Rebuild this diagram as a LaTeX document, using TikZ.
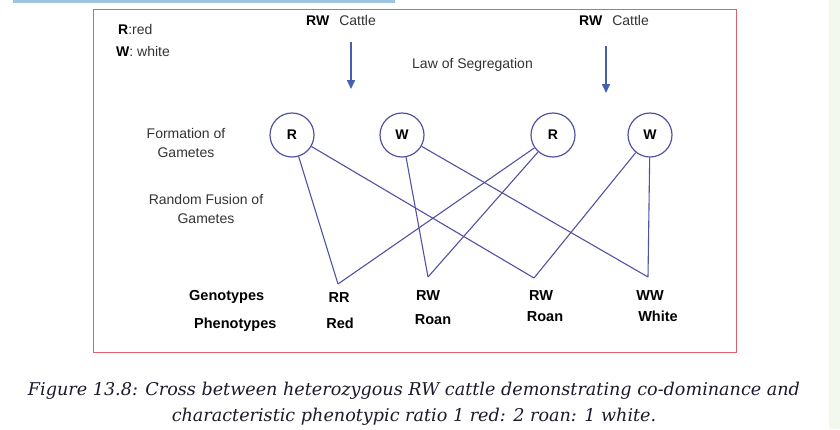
\documentclass[tikz,border=0pt]{standalone}
\usepackage{fontspec}
\setmainfont{Liberation Sans}
\newfontfamily\capfont{DejaVu Serif}
\usetikzlibrary{positioning, arrows.meta}

\definecolor{linecol}{HTML}{5252A2}
\definecolor{arrowcol}{HTML}{4560B0}
\definecolor{framecol}{HTML}{E0606E}
\definecolor{toplinecol}{HTML}{9EC4DE}
\definecolor{panelcol}{HTML}{F3F8EF}
\definecolor{greytext}{HTML}{333333}
\definecolor{captext}{HTML}{1A1A2C}

\begin{document}
\begin{tikzpicture}[x=1pt, y=-1pt]
        % Define styles for shapes
        \tikzset{
            gamete/.style={draw=linecol, circle, line width=1.2pt, minimum size=44pt, inner sep=0pt, font=\fontsize{14}{16}\selectfont\bfseries},
            cross/.style={linecol, line width=1.1pt},
            lbl/.style={font=\fontsize{14}{19}\selectfont, text=greytext, inner sep=0pt},
            blbl/.style={font=\fontsize{14.5}{16}\selectfont\bfseries, text=black, inner sep=0pt},
            down/.style={arrowcol, line width=1.6pt, -{Triangle[length=9pt, width=8pt]}}
        }
        \useasboundingbox (0,0) rectangle (840,429);
        % Page decorations
        \fill[toplinecol] (13,0) rectangle (395,2.5);
        \fill[panelcol] (829,0) rectangle (840,429);
        \draw[framecol, line width=1pt] (93,9) rectangle (736,352);

        % Key and headings
        \node[lbl, anchor=west] (keyr) at (118,29) {\textcolor{black}{\textbf{R}}:red};
        \node[lbl, anchor=west] (keyw) at (116,51) {\textcolor{black}{\textbf{W}}: white};
        \node[lbl, anchor=west] (cattle1) at (306,20) {\textcolor{black}{\textbf{RW}}\hspace{10pt}Cattle};
        \node[lbl, anchor=west] (cattle2) at (579,20) {\textcolor{black}{\textbf{RW}}\hspace{10pt}Cattle};
        \node[lbl, anchor=west] (law) at (412,65) {Law of Segregation};
        \node[lbl, align=center] (formation) at (186,143) {Formation of\\Gametes};
        \node[lbl, align=center] (fusion) at (206,209) {Random Fusion of\\Gametes};

        % Arrows from parents
        \coordinate (top1) at (351,42);
        \coordinate (bot1) at (351,89);
        \coordinate (top2) at (606,46);
        \coordinate (bot2) at (606,93);
        \draw[down] (top1) -- (bot1);
        \draw[down] (top2) -- (bot2);

        % Gametes
        \node[gamete] (r1) at (292,135) {R};
        \node[gamete] (w1) at (402,135) {W};
        \node[gamete] (r2) at (553,135) {R};
        \node[gamete] (w2) at (650,135) {W};

        % Fusion points
        \coordinate (rr) at (338,284);
        \coordinate (rw1) at (428,277);
        \coordinate (rw2) at (534,278);
        \coordinate (ww) at (648,277);

        % Draw crossing lines
        \draw[cross] (r1) -- (rr);
        \draw[cross] (r1) -- (rw2);
        \draw[cross] (w1) -- (rw1);
        \draw[cross] (w1) -- (ww);
        \draw[cross] (r2) -- (rr);
        \draw[cross] (r2) -- (rw1);
        \draw[cross] (w2) -- (rw2);
        \draw[cross] (w2) -- (ww);

        % Offspring
        \node[blbl, anchor=west] (geno) at (189,297) {Genotypes};
        \node[blbl, anchor=west] (pheno) at (194,325) {Phenotypes};
        \node[blbl] (g1) at (339,298) {RR};
        \node[blbl] (p1) at (340,323) {Red};
        \node[blbl] (g2) at (428,296) {RW};
        \node[blbl] (p2) at (433,320) {Roan};
        \node[blbl] (g3) at (541,296) {RW};
        \node[blbl] (p3) at (545,317) {Roan};
        \node[blbl] (g4) at (650,296) {WW};
        \node[blbl] (p4) at (658,316) {White};

        % Caption
        \node[font=\capfont\itshape\fontsize{17.6}{26}\selectfont, text=captext, align=center, inner sep=0pt] (caption) at (414,404)
            {Figure 13.8: Cross between heterozygous RW cattle demonstrating co-dominance and\\characteristic phenotypic ratio 1 red: 2 roan: 1 white.};
\end{tikzpicture}
\end{document}
